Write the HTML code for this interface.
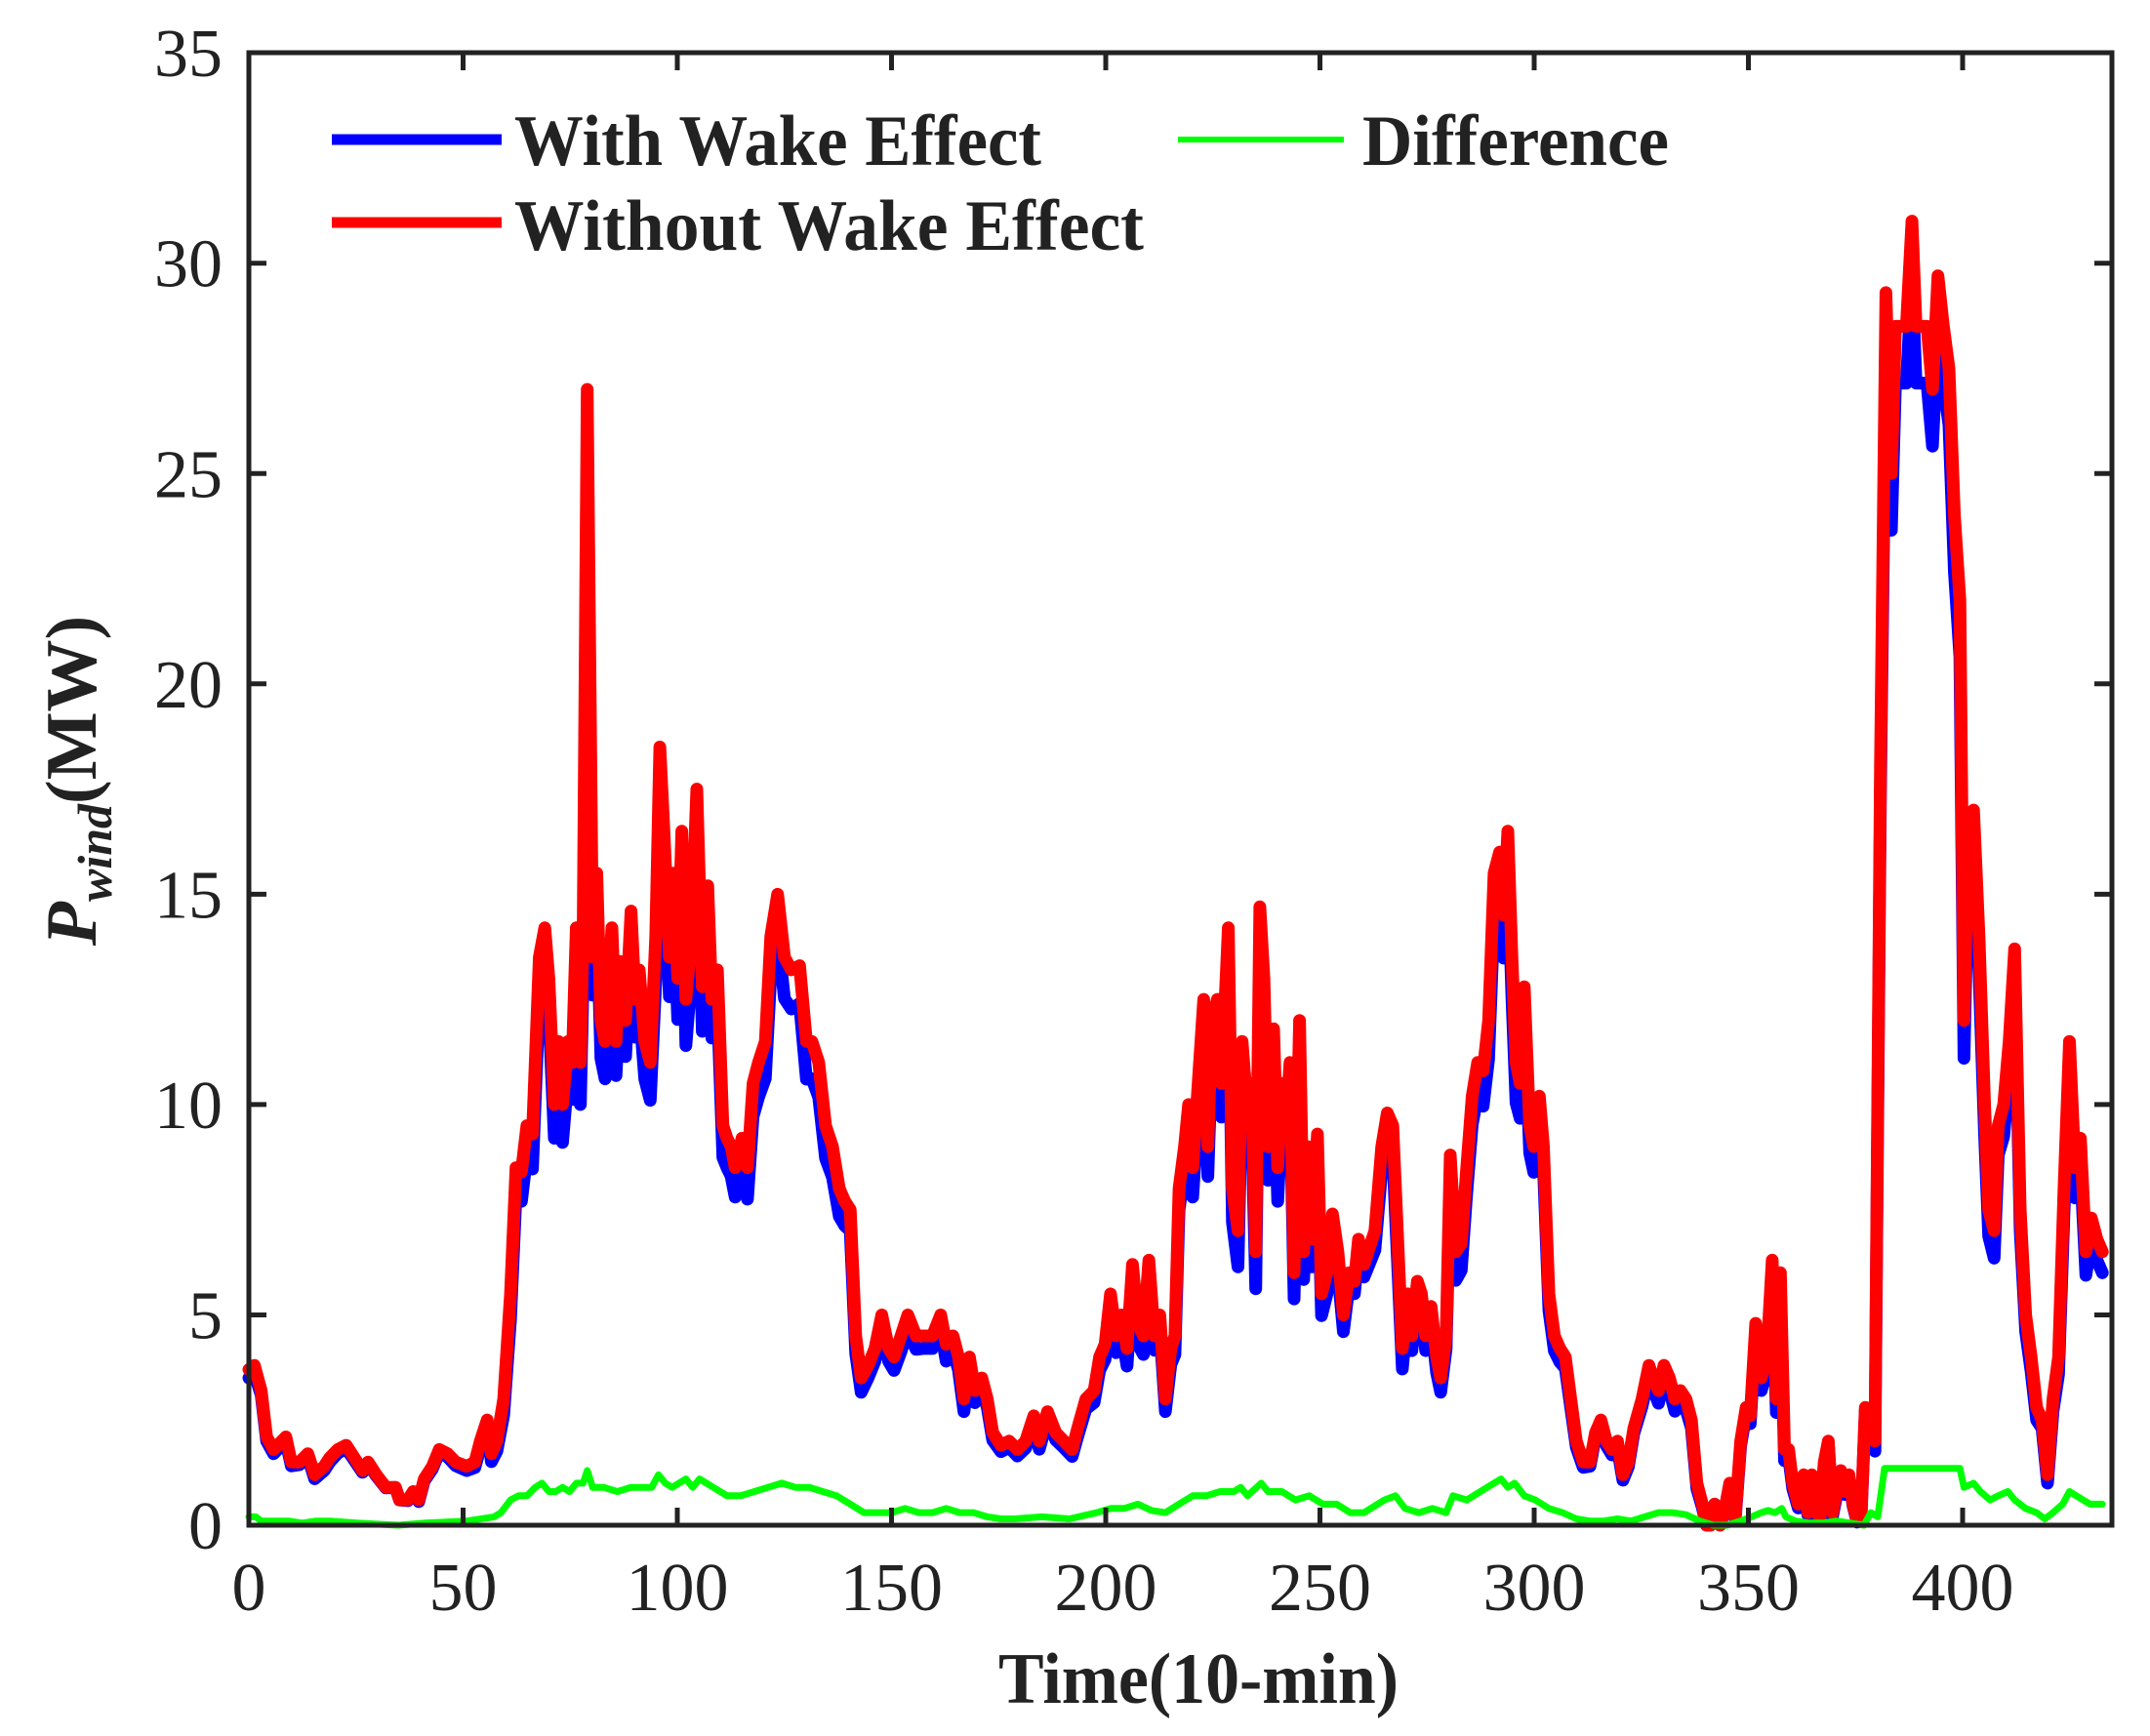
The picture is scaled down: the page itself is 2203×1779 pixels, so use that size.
<!DOCTYPE html>
<html><head><meta charset="utf-8"><style>
html,body{margin:0;padding:0;background:#fff;}
svg{display:block;}
text{font-family:"Liberation Serif",serif;fill:#222;}
</style></head><body>
<svg id="s" width="2203" height="1779" viewBox="0 0 2203 1779" xmlns="http://www.w3.org/2000/svg">
<g id="data"></g>
<g id="axes" stroke="#222" stroke-width="5" fill="none"></g>
<g id="labels" font-size="70"></g>
<!-- legend -->
<line x1="340" y1="143" x2="514" y2="143" stroke="#0000ff" stroke-width="11"/>
<line x1="340" y1="228" x2="514" y2="228" stroke="#ff0000" stroke-width="11"/>
<line x1="1207" y1="143" x2="1377" y2="143" stroke="#00ff00" stroke-width="6"/>
<text x="527" y="169" font-size="74" font-weight="bold" fill="#000" textLength="540" lengthAdjust="spacingAndGlyphs">With Wake Effect</text>
<text x="527" y="256" font-size="74" font-weight="bold" fill="#000" textLength="645" lengthAdjust="spacingAndGlyphs">Without Wake Effect</text>
<text x="1396" y="169" font-size="74" font-weight="bold" fill="#000" textLength="314" lengthAdjust="spacingAndGlyphs">Difference</text>
<text x="1228" y="1745" font-size="74" font-weight="bold" fill="#222" text-anchor="middle" textLength="410" lengthAdjust="spacingAndGlyphs">Time(10-min)</text>
<text transform="translate(98,800) rotate(-90)" font-size="74" font-weight="bold" fill="#222" text-anchor="middle"><tspan font-style="italic">P</tspan><tspan font-style="italic" font-size="50" dy="16">wind</tspan><tspan dy="-16">(MW)</tspan></text>
</svg>
<script>
var L=255,R=2164,B=1563,T=54;
function X(t){return L+t*4.39;} function Y(v){return B-v*43.11;}
function tp(xp){return (xp-181)/3.1275;}
var red=[181,3.7,185,3.8,190,3.2,194,2.1,199,1.8,205,2.0,208,2.1,212,1.5,218,1.5,224,1.7,229,1.2,236,1.4,240,1.6,246,1.8,252,1.9,258,1.6,264,1.3,268,1.5,274,1.2,281,0.9,288,0.9,291,0.6,297,0.6,301,0.8,305,0.6,309,1.1,315,1.4,320,1.8,326,1.7,332,1.5,340,1.4,346,1.5,350,2.0,355,2.5,358,1.7,362,2.0,367,3.0,372,5.5,376,8.5,380,8.4,384,9.5,388,9.3,393,13.5,397,14.2,400,13.0,404,10,407,11.5,410,10.0,414,11.5,417,11.0,420,14.2,423,11.0,425,14.0,428,27,432,13.5,435,15.5,438,12,441,11.5,446,14.2,449,11.5,452,13.4,456,12.0,460,14.6,463,12.5,466,13.2,470,11.5,474,11.0,478,14,481,18.5,484,16.5,488,13.5,491,15.5,494,13.0,497,16.5,500,12.5,504,14.0,508,17.5,512,12.8,516,15.2,519,12.5,523,13.2,527,9.5,530,9.2,533,9.0,536,8.5,541,9.2,545,8.5,549,10.5,553,11.0,558,11.5,562,14.0,567,15.0,572,13.5,577,13.2,583,13.3,588,11.5,592,11.5,597,11.0,602,9.5,607,9.0,612,8.0,616,7.7,620,7.5,624,4.5,628,3.5,633,3.8,638,4.2,643,5.0,648,4.2,652,4.0,657,4.5,662,5.0,668,4.5,673,4.5,680,4.5,686,5.0,690,4.3,695,4.5,699,4.0,703,3.0,707,4.0,711,3.2,716,3.5,720,3.0,724,2.2,730,1.9,736,2.0,742,1.8,748,2.0,754,2.6,758,2.0,764,2.7,770,2.2,776,2.0,782,1.8,786,2.3,792,3.0,798,3.2,802,4.0,806,4.3,810,5.5,814,4.5,818,5.0,822,4.2,826,6.2,830,4.8,834,4.5,838,6.3,842,4.5,846,5.0,850,3.0,854,4.2,857,4.5,860,8.0,864,9.0,867,10.0,870,8.5,874,10.5,878,12.5,881,9.0,884,12.0,888,12.5,891,10.5,896,14.2,899,8,903,7.0,906,11.5,910,9.8,913,10.5,916,6.5,919,14.7,922,13.0,925,9.0,929,11.8,932,8.5,935,10.5,938,9.5,941,11.0,944,6.0,948,12.0,951,6.5,954,9.0,957,6.8,961,9.3,964,5.5,968,6.0,972,7.4,976,6.5,980,5.0,984,6.0,988,5.8,991,6.8,995,6.2,999,6.6,1003,7.0,1008,9.0,1012,9.8,1016,9.5,1020,6.5,1023,4.2,1027,5.5,1030,4.5,1034,5.8,1037,5.5,1040,4.5,1044,5.2,1048,4.0,1051,3.5,1055,4.5,1058,8.8,1062,6.5,1066,6.7,1070,8.5,1074,10.2,1078,11.0,1082,10.8,1086,12.0,1090,15.5,1094,16.0,1097,14.5,1100,16.5,1103,13.5,1106,11.0,1109,10.5,1112,12.8,1116,9.5,1119,9.0,1123,10.2,1126,9.0,1130,5.5,1134,4.5,1138,4.2,1142,4.0,1146,3.0,1150,2.0,1155,1.5,1160,1.5,1164,2.2,1168,2.5,1172,2.0,1176,1.8,1180,2.0,1184,1.2,1188,1.5,1192,2.3,1198,3.0,1203,3.8,1206,3.5,1210,3.2,1214,3.8,1218,3.5,1222,3.0,1226,3.2,1230,3.0,1234,2.5,1238,1.0,1242,0.5,1245,0.0,1248,0.0,1251,0.5,1255,0.0,1258,0.3,1262,1.0,1266,0.2,1270,2.0,1274,2.8,1277,2.6,1281,4.8,1285,3.5,1289,4.0,1293,6.3,1296,3.0,1299,6.0,1302,1.8,1305,1.8,1308,1.0,1312,0.5,1316,1.2,1319,0.3,1322,1.2,1325,0.3,1328,0.2,1331,1.5,1334,2.0,1337,0.3,1340,0.8,1343,1.3,1346,0.8,1349,1.2,1352,0.5,1355,0.1,1358,0.3,1361,2.8,1365,2.5,1368,2.0,1372,18,1376,29.3,1380,25,1383,28.5,1387,28.5,1391,28.5,1395,31,1398,28.5,1402,28.5,1406,28.5,1410,27.0,1414,29.7,1418,28.5,1422,27.5,1426,24,1430,22,1433,12,1436,16.5,1440,17,1444,14,1448,10,1451,7.5,1455,7.0,1458,9.5,1462,10.0,1466,11.5,1470,13.7,1474,7.5,1478,5.0,1482,4.0,1486,2.8,1490,2.5,1494,1.2,1498,3.0,1502,4.0,1506,8.0,1510,11.5,1514,8.5,1518,9.2,1522,6.5,1526,7.3,1530,6.8,1534,6.5];
var grn=[181,0.2,186,0.2,190,0.1,200,0.1,210,0.1,220,0.05,230,0.1,240,0.1,260,0.05,290,0.0,310,0.05,340,0.1,360,0.2,365,0.3,372,0.6,378,0.7,384,0.7,390,0.9,395,1.0,400,0.8,405,0.8,410,0.9,415,0.8,420,1.0,425,1.0,428,1.3,432,0.9,440,0.9,450,0.8,460,0.9,470,0.9,475,0.9,480,1.2,485,1.0,490,0.9,495,1.0,500,1.1,505,0.9,510,1.1,515,1.0,520,0.9,530,0.7,540,0.7,550,0.8,560,0.9,570,1.0,580,0.9,590,0.9,600,0.8,610,0.7,620,0.5,630,0.3,640,0.3,650,0.3,660,0.4,670,0.3,680,0.3,690,0.4,700,0.3,710,0.3,720,0.2,730,0.15,740,0.15,760,0.2,780,0.15,800,0.3,810,0.4,820,0.4,830,0.5,840,0.35,850,0.3,860,0.5,870,0.7,880,0.7,890,0.8,900,0.8,905,0.9,910,0.7,920,1.0,925,0.8,935,0.8,945,0.6,955,0.7,965,0.5,975,0.5,985,0.3,995,0.3,1005,0.5,1010,0.6,1018,0.7,1025,0.4,1035,0.3,1045,0.4,1055,0.3,1060,0.7,1070,0.6,1080,0.8,1090,1.0,1095,1.1,1100,0.9,1105,1.0,1112,0.7,1120,0.6,1130,0.4,1140,0.3,1150,0.15,1160,0.1,1170,0.1,1180,0.15,1190,0.1,1200,0.2,1210,0.3,1220,0.3,1230,0.25,1240,0.1,1250,0.0,1260,0.0,1270,0.1,1278,0.2,1285,0.3,1290,0.35,1295,0.3,1300,0.4,1303,0.2,1310,0.1,1320,0.05,1330,0.05,1340,0.1,1350,0.05,1360,0.0,1365,0.3,1370,0.2,1375,1.35,1380,1.35,1400,1.35,1420,1.35,1430,1.35,1433,0.9,1440,1.0,1445,0.8,1452,0.6,1458,0.7,1465,0.8,1470,0.6,1478,0.4,1486,0.3,1492,0.15,1498,0.3,1505,0.5,1510,0.8,1515,0.7,1520,0.6,1525,0.5,1534,0.5];
function interp(arr,xp){for(var i=0;i<arr.length-2;i+=2){if(xp<=arr[i+2]){var a=arr[i],b=arr[i+2];var f=(xp-a)/(b-a||1);return arr[i+1]+f*(arr[i+3]-arr[i+1]);}}return arr[arr.length-1];}
function path(pts){var d='';for(var i=0;i<pts.length;i+=2){d+=(i?'L':'M')+X(tp(pts[i])).toFixed(1)+','+Y(pts[i+1]).toFixed(1);}return d;}
var blue=[];for(var i=0;i<red.length;i+=2){blue.push(red[i],Math.max(0,red[i+1]-interp(grn,red[i])));}
var ns='http://www.w3.org/2000/svg',g=document.getElementById('data');
function add(d,c,w){var p=document.createElementNS(ns,'path');p.setAttribute('d',d);p.setAttribute('stroke',c);p.setAttribute('stroke-width',w);p.setAttribute('fill','none');p.setAttribute('stroke-linejoin','round');p.setAttribute('stroke-linecap','round');g.appendChild(p);}
add(path(blue),'#0000ff',13);add(path(red),'#ff0000',13);add(path(grn),'#00ff00',7);
var ax=document.getElementById('axes'),lb=document.getElementById('labels');
function ln(x1,y1,x2,y2){var l=document.createElementNS(ns,'line');l.setAttribute('x1',x1);l.setAttribute('y1',y1);l.setAttribute('x2',x2);l.setAttribute('y2',y2);ax.appendChild(l);}
function tx(x,y,s,a){var t=document.createElementNS(ns,'text');t.setAttribute('x',x);t.setAttribute('y',y);t.setAttribute('text-anchor',a);t.textContent=s;lb.appendChild(t);}
var r=document.createElementNS(ns,'rect');r.setAttribute('x',L);r.setAttribute('y',T);r.setAttribute('width',R-L);r.setAttribute('height',B-T);ax.appendChild(r);
for(var v=0;v<=35;v+=5){var y=Y(v);if(v>0&&v<35){ln(L,y,L+18,y);ln(R,y,R-18,y);}tx(228,y+24,String(v),'end');}
for(var t=0;t<=400;t+=50){var x=X(t);if(t>0){ln(x,B,x,B-18);ln(x,T,x,T+18);}tx(x,1650,String(t),'middle');}
</script>
</body></html>
